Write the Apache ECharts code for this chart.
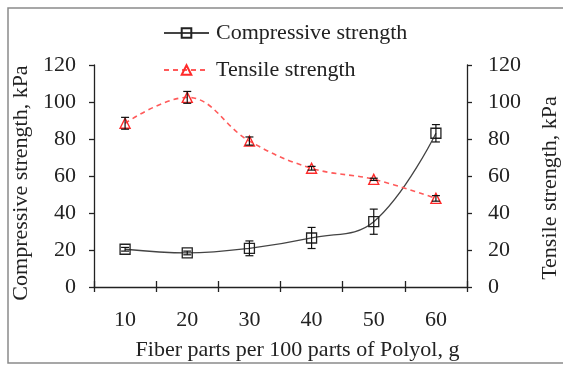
<!DOCTYPE html>
<html>
<head>
<meta charset="utf-8">
<script src="https://cdn.jsdelivr.net/npm/echarts@6/dist/echarts.min.js"></script>
<style>
  html, body { margin: 0; padding: 0; background: #fff; }
  #chart { width: 563px; height: 365px; }
</style>
</head>
<body>
<div id="chart"></div>
<script>
const categories = ['10', '20', '30', '40', '50', '60'];
const compressive = [20.4, 18.4, 20.9, 26.5, 35.3, 83.1];
const compressiveErr = [1.0, 1.0, 4.0, 5.7, 6.8, 4.7];
const tensile = [88.5, 102.5, 78.9, 64.2, 58.2, 47.9];
const tensileErr = [3.2, 3.2, 2.2, 1.0, 0.6, 1.5];
const yTicks = [0, 20, 40, 60, 80, 100, 120];

const font = 'Liberation Serif';
const textColor = '#222';

const errorData = (vals, errs) => vals.map((v, i) => [i, v - errs[i], v + errs[i]]);

const renderErr = (params, api) => {
  const lo = api.coord([api.value(0), api.value(1)]);
  const hi = api.coord([api.value(0), api.value(2)]);
  const w = 4;
  const style = { stroke: '#111', lineWidth: 1.2, fill: null };
  return {
    type: 'group',
    children: [
      { type: 'line', shape: { x1: lo[0], y1: lo[1], x2: hi[0], y2: hi[1] }, style },
      { type: 'line', shape: { x1: lo[0] - w, y1: lo[1], x2: lo[0] + w, y2: lo[1] }, style },
      { type: 'line', shape: { x1: hi[0] - w, y1: hi[1], x2: hi[0] + w, y2: hi[1] }, style }
    ]
  };
};

const yAxisBase = {
  type: 'value',
  min: yTicks[0],
  max: yTicks[yTicks.length - 1],
  interval: 20,
  nameLocation: 'middle',
  axisLine: { show: true, lineStyle: { color: '#222', width: 1.3 } },
  axisTick: { show: true, length: 5, lineStyle: { color: '#222', width: 1.3 } },
  splitLine: { show: false },
  axisLabel: { fontFamily: font, fontSize: 22, color: textColor }
};

const chart = echarts.init(document.getElementById('chart'));

const option = {
  animation: false,
  graphic: [{
    type: 'rect',
    shape: { x: 8, y: 8, width: 600, height: 355 },
    style: { fill: null, stroke: '#8a8a8a', lineWidth: 1.5 },
    silent: true
  }],
  legend: {
    orient: 'vertical',
    left: 158,
    top: 17,
    itemWidth: 45,
    itemHeight: 12,
    itemGap: 15,
    data: ['Compressive strength', 'Tensile strength'],
    textStyle: { fontFamily: font, fontSize: 22, color: textColor, lineHeight: 22, padding: [0, 0, 0, 2] }
  },
  grid: { left: 94, right: 96, top: 65, bottom: 78, containLabel: false, outerBoundsMode: 'none' },
  xAxis: [{
    type: 'category',
    data: categories,
    boundaryGap: true,
    name: 'Fiber parts per 100 parts of Polyol, g',
    nameLocation: 'middle',
    nameGap: 52,
    nameTextStyle: { fontFamily: font, fontSize: 22, color: textColor, padding: [0, 0, 0, 34] },
    axisLine: { lineStyle: { color: '#222', width: 1.3 } },
    axisTick: { show: true, length: 5, lineStyle: { color: '#222', width: 1.3 } },
    axisLabel: { fontFamily: font, fontSize: 22, color: textColor, margin: 22 }
  }, {
    type: 'category',
    data: categories,
    position: 'bottom',
    boundaryGap: true,
    axisLine: { show: false },
    axisTick: { show: true, inside: true, length: 6, lineStyle: { color: '#222', width: 1.3 } },
    axisLabel: { show: false }
  }],
  yAxis: [
    Object.assign({}, yAxisBase, {
      position: 'left',
      name: 'Compressive strength, kPa',
      nameGap: 56,
      nameTextStyle: { fontFamily: font, fontSize: 22, color: textColor, padding: [0, 14, 0, 0] },
      axisLabel: Object.assign({}, yAxisBase.axisLabel, { margin: 18 })
    }),
    Object.assign({}, yAxisBase, {
      position: 'right',
      name: 'Tensile strength, kPa',
      nameGap: 72,
      nameTextStyle: { fontFamily: font, fontSize: 22, color: textColor, padding: [0, 24, 0, 0] },
      axisLabel: Object.assign({}, yAxisBase.axisLabel, { margin: 21 })
    })
  ],
  series: [
    {
      name: 'Compressive strength',
      type: 'line',
      yAxisIndex: 0,
      data: compressive,
      smooth: 0.4,
      symbol: 'rect',
      symbolSize: 10,
      lineStyle: { color: '#444', width: 1.3 },
      itemStyle: { color: 'rgba(255,255,255,0)', borderColor: '#222', borderWidth: 1.3 },
      z: 3
    },
    {
      name: 'Tensile strength',
      type: 'line',
      yAxisIndex: 1,
      data: tensile,
      smooth: 0.4,
      symbol: 'triangle',
      symbolSize: 10,
      lineStyle: { color: '#ff5a5a', width: 1.6, type: [5, 4] },
      itemStyle: { color: 'rgba(255,255,255,0)', borderColor: '#ff2a2a', borderWidth: 1.4 },
      z: 3
    },
    {
      type: 'custom',
      yAxisIndex: 0,
      renderItem: renderErr,
      data: errorData(compressive, compressiveErr),
      encode: { x: 0, y: [1, 2] },
      z: 4
    },
    {
      type: 'custom',
      yAxisIndex: 1,
      renderItem: renderErr,
      data: errorData(tensile, tensileErr),
      encode: { x: 0, y: [1, 2] },
      z: 4
    }
  ]
};

chart.setOption(option);
</script>
</body>
</html>
